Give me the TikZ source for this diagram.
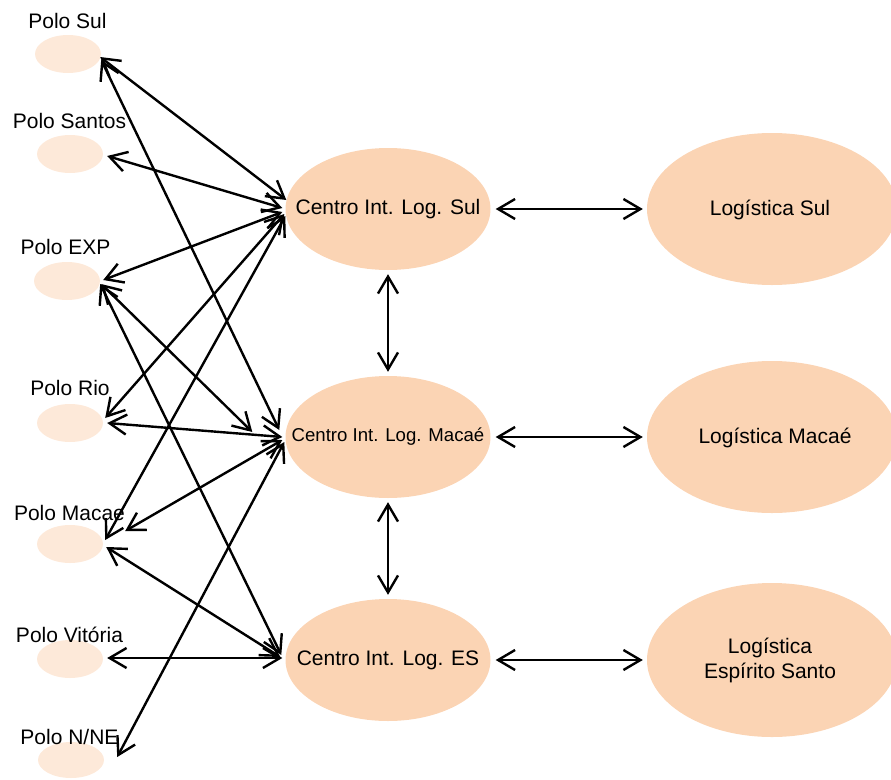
\documentclass[tikz,border=0pt]{standalone}
\usepackage{fontspec}
\setmainfont{Liberation Sans}
\usetikzlibrary{arrows.meta,shapes.geometric}
\definecolor{peach}{HTML}{FBD4B4}
\definecolor{lightpeach}{HTML}{FDE9D9}
\begin{document}
\begin{tikzpicture}[x=1pt,y=-1pt,
  polo/.style={ellipse, fill=lightpeach, minimum width=66pt, minimum height=38pt, inner sep=0pt},
  centro/.style={ellipse, fill=peach, minimum width=205pt, minimum height=122pt, inner sep=0pt},
  logi/.style={ellipse, fill=peach, minimum width=250pt, minimum height=152pt, inner sep=0pt},
  txt/.style={inner sep=0pt, align=center, font=\fontsize{21}{25}\selectfont},
  smalltxt/.style={inner sep=0pt, font=\fontsize{18.6}{22}\selectfont},
  dbl/.style={{Straight Barb[length=17pt,width=20pt]}-{Straight Barb[length=17pt,width=20pt]}, line width=2.4pt, line join=miter},
]
\useasboundingbox (0,0) rectangle (891,779);

% Polo ellipses
\node[polo] (PSul) at (68,54) {};
\node[polo] (PSan) at (70,154) {};
\node[polo] (PEXP) at (67,281) {};
\node[polo] (PRio) at (70,423) {};
\node[polo] (PMac) at (70,544) {};
\node[polo] (PVit) at (70,659) {};
\node[polo, minimum height=36pt] (PNNE) at (71,760) {};

% Polo labels
\node[txt] (LPSul) at (67.5,20.5) {Polo Sul};
\node[txt] (LPSan) at (69.5,121) {Polo Santos};
\node[txt] (LPEXP) at (65.5,247) {Polo EXP};
\node[txt] (LPRio) at (70,388) {Polo Rio};
\node[txt] (LPMac) at (69.5,513) {Polo Macae};
\node[txt] (LPVit) at (69.5,635) {Polo Vitória};
\node[txt] (LPNNE) at (69.5,737) {Polo N/NE};

% Centros
\node[centro] (CS) at (388,209) {};
\node[centro] (CM) at (388,437) {};
\node[centro] (CE) at (388,660) {};
\node[txt] (CSt) at (388,209) {Centro Int. Log. Sul};
\node[smalltxt] (CMt) at (388,437) {Centro Int. Log. Macaé};
\node[txt] (CEt) at (388,660) {Centro Int. Log. ES};

% Logistica
\node[logi] (LS) at (772,209) {};
\node[logi] (LM) at (772,437) {};
\node[logi, minimum height=154pt] (LE) at (772,660) {};
\node[txt] (LSt) at (770,210) {Logística Sul};
\node[txt] (LMt) at (775,437.5) {Logística Macaé};
\node[txt] (LEt) at (770,660) {Logística\\Espírito Santo};

% Polo <-> Centro connectors
\draw[dbl] ([shift={(-1,3)}]PSul.east) -- ([shift={(1,-9)}]CS.west);
\draw[dbl] ([shift={(0,6)}]PSul.east) -- ([shift={(-6,-7)}]CM.west);
\draw[dbl] ([shift={(4,2)}]PSan.east) -- ([shift={(-3,-1)}]CS.west);
\draw[dbl] ([shift={(3,-1)}]PEXP.east) -- ([shift={(-3,3)}]CS.west);
\draw[dbl] ([shift={(1,3)}]PEXP.east) -- ([shift={(-33,-5)}]CM.west);
\draw[dbl] ([shift={(0,3)}]PEXP.east) -- ([shift={(-4,-5)}]CE.west);
\draw[dbl] ([shift={(2,-5)}]PRio.east) -- ([shift={(-1,5)}]CS.west);
\draw[dbl] ([shift={(4,0)}]PRio.east) -- ([shift={(-3,0)}]CM.west);
\draw[dbl] ([shift={(2,-4)}]PMac.east) -- ([shift={(0,7)}]CS.west);
\draw[dbl] ([shift={(22,-13)}]PMac.east) -- ([shift={(-3,3)}]CM.west);
\draw[dbl] ([shift={(3,3)}]PMac.east) -- ([shift={(-5,-3)}]CE.west);
\draw[dbl] ([shift={(4,-1)}]PVit.east) -- ([shift={(-3,-2)}]CE.west);
\draw[dbl] ([shift={(13,-3)}]PNNE.east) -- ([shift={(-1,5)}]CM.west);

% Centro <-> Centro
\draw[dbl, shorten <=4pt, shorten >=4pt] (CS.south) -- (CM.north);
\draw[dbl, shorten <=4pt, shorten >=4pt] (CM.south) -- (CE.north);

% Centro <-> Logistica
\draw[dbl, shorten <=5pt, shorten >=4pt] (CS.east) -- (LS.west);
\draw[dbl, shorten <=5pt, shorten >=4pt] (CM.east) -- (LM.west);
\draw[dbl, shorten <=5pt, shorten >=4pt] (CE.east) -- (LE.west);
\end{tikzpicture}
\end{document}
